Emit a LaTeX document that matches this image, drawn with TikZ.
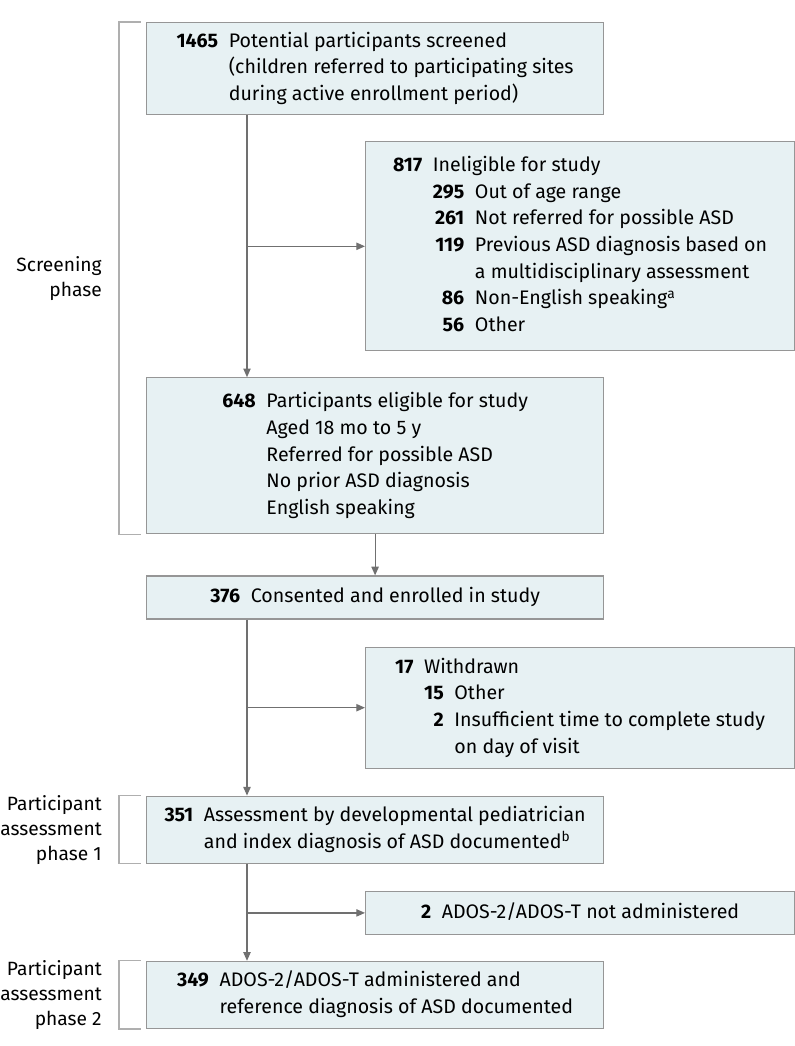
\documentclass[tikz,border=0pt]{standalone}
\usepackage{fontspec}
\setmainfont{Fira Sans}
\usetikzlibrary{arrows.meta, positioning, calc}

\definecolor{boxfill}{RGB}{231,241,243}
\definecolor{boxline}{RGB}{150,150,150}
\definecolor{flowline}{RGB}{112,112,112}
\definecolor{bracketline}{RGB}{175,175,175}

\begin{document}
\begin{tikzpicture}[
  >={Triangle[length=6.5pt,width=5.5pt]},
  mainbox/.style={rectangle, draw=boxline, line width=0.9pt, fill=boxfill, font=\fontsize{14.7}{20}\selectfont, minimum width=342.75pt, inner sep=0pt},
  sidebox/.style={mainbox, minimum width=321.75pt},
  flow/.style={->, draw=flowline, line width=0.9pt},
  bracket/.style={draw=bracketline, line width=1pt},
  phase/.style={align=right, inner sep=0pt, font=\fontsize{14.4}{18.75}\selectfont}
]
\useasboundingbox (-109.5pt,16.5pt) rectangle (486pt,-768pt);

% Main column
\node[mainbox, minimum height=69pt, anchor=north west] (screened) at (0,0) {%
  \begin{tabular}{@{}r@{\hspace{8pt}}l@{}}
  \textbf{1465} & Potential participants screened\\
   & (children referred to participating sites\\
   & during active enrollment period)
  \end{tabular}};
\node[mainbox, minimum height=117pt, below=196.5pt of screened] (eligible) {%
  \begin{tabular}{@{}r@{\hspace{8pt}}l@{}}
  \textbf{648} & Participants eligible for study\\
   & Aged 18 mo to 5 y\\
   & Referred for possible ASD\\
   & No prior ASD diagnosis\\
   & English speaking
  \end{tabular}};
\node[mainbox, minimum height=32.25pt, below=30.75pt of eligible] (enrolled) {%
  \begin{tabular}{@{}r@{\hspace{8pt}}l@{}}
  \textbf{376} & Consented and enrolled in study
  \end{tabular}};
\node[mainbox, minimum height=50.25pt, below=132pt of enrolled] (assessed) {%
  \begin{tabular}{@{}r@{\hspace{8pt}}l@{}}
  \textbf{351} & Assessment by developmental pediatrician\\
   & and index diagnosis of ASD documented\textsuperscript{b}
  \end{tabular}};
\node[mainbox, minimum height=50.25pt, below=72.75pt of assessed] (administered) {%
  \begin{tabular}{@{}r@{\hspace{8pt}}l@{}}
  \textbf{349} & ADOS-2/ADOS-T administered and\\
   & reference diagnosis of ASD documented
  \end{tabular}};

% Exclusion boxes
\node[sidebox, minimum height=156.75pt, below right=19.5pt and 164.25pt of screened.south west] (ineligible) {%
  \begin{tabular}{@{}r@{\hspace{8pt}}r@{\hspace{8pt}}l@{}}
  \textbf{817} & \multicolumn{2}{@{}l@{}}{Ineligible for study}\\
   & \textbf{295} & Out of age range\\
   & \textbf{261} & Not referred for possible ASD\\
   & \textbf{119} & Previous ASD diagnosis based on\\
   & & a multidisciplinary assessment\\
   & \textbf{86} & Non-English speaking\textsuperscript{a}\\
   & \textbf{56} & Other
  \end{tabular}};
\node[sidebox, minimum height=90.75pt, below right=20.25pt and 164.25pt of enrolled.south west] (withdrawn) {%
  \begin{tabular}{@{}r@{\hspace{8pt}}r@{\hspace{8pt}}l@{}}
  \textbf{17} & \multicolumn{2}{@{}l@{}}{Withdrawn}\\
   & \textbf{15} & Other\\
   & \textbf{2} & Insufficient time to complete study\\
   & & on day of visit
  \end{tabular}};
\node[sidebox, minimum height=32.25pt, below right=20.25pt and 164.25pt of assessed.south west] (notadmin) {%
  \begin{tabular}{@{}r@{\hspace{8pt}}l@{}}
  \textbf{2} & ADOS-2/ADOS-T not administered
  \end{tabular}};

% Connectors
\coordinate (trunkA) at ([xshift=75.75pt]screened.south west);
\coordinate (trunkB) at ([xshift=75.75pt]enrolled.south west);
\coordinate (trunkC) at ([xshift=75.75pt]assessed.south west);

\draw[flow] (trunkA) -- (trunkA |- eligible.north);
\draw[flow] (trunkA |- ineligible.west) -- (ineligible.west);
\draw[flow] (eligible) -- (enrolled);
\draw[flow] (trunkB) -- (trunkB |- assessed.north);
\draw[flow] (trunkB |- withdrawn.west) -- (withdrawn.west);
\draw[flow] (trunkC) -- (trunkC |- administered.north);
\draw[flow] (trunkC |- notadmin.west) -- (notadmin.west);

% Phase brackets
\draw[bracket] ([xshift=-3.75pt]screened.north west) -- ++(-16.5pt,0) |- ([xshift=-3.75pt]eligible.south west);
\draw[bracket] ([xshift=-3.75pt]assessed.north west) -- ++(-16.5pt,0) |- ([xshift=-3.75pt]assessed.south west);
\draw[bracket] ([xshift=-3.75pt]administered.north west) -- ++(-16.5pt,0) |- ([xshift=-3.75pt]administered.south west);

\coordinate (screenmid) at ($(screened.north west)!0.5!(eligible.south west)$);
\node[phase, left=33pt of screenmid] (screenlbl) {Screening\\phase};
\node[phase, left=33pt of assessed.west] (phaseone) {Participant\\assessment\\phase 1};
\node[phase, left=33pt of administered.west] (phasetwo) {Participant\\assessment\\phase 2};

\end{tikzpicture}
\end{document}
